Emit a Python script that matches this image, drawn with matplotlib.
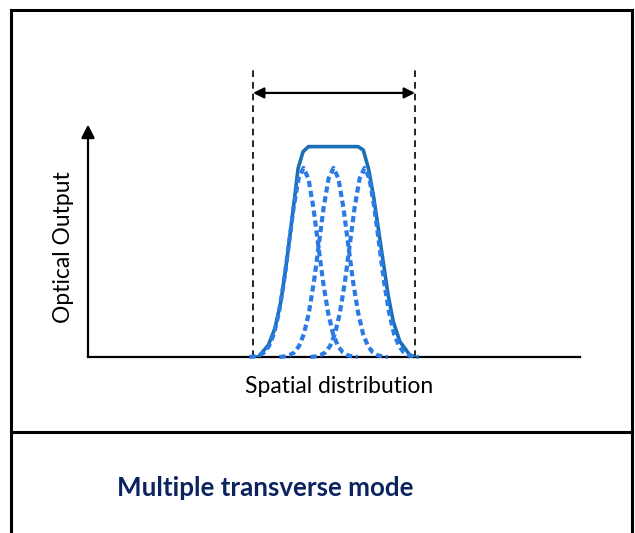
import matplotlib
matplotlib.use("Agg")
import matplotlib.pyplot as plt
import numpy as np
from matplotlib.patches import Rectangle
from matplotlib.lines import Line2D

# single-mode profile (offset from mode centre, relative output)
PROFILE_OFFSET = [-11, -10, -9, -8, -7, -6, -5, -4, -3, -2, -1, 0,
                  1, 2, 3, 4, 5, 6, 7, 8, 9, 10, 11]
PROFILE_HEIGHT = [0.0, 0.003, 0.009, 0.024, 0.058, 0.123, 0.234, 0.394, 0.592, 0.792, 0.944, 1.0,
                  0.944, 0.792, 0.592, 0.394, 0.234, 0.123, 0.058, 0.024, 0.009, 0.003, 0.0]
MODE_CENTERS = [43.8, 49.9, 56.2]

# combined (envelope) output
ENVELOPE_X = [33.5, 34.6, 36.65, 38.0, 39.2, 40.2, 41.06, 41.9, 42.7, 43.7, 44.8,
              54.9, 55.95, 57.0, 58.0, 59.0, 60.0, 61.0, 62.05, 63.4, 65.4, 66.5]
ENVELOPE_Y = [0.0, 0.0, 0.063, 0.152, 0.293, 0.469, 0.646, 0.822, 0.998, 1.086, 1.113,
              1.113, 1.095, 0.998, 0.857, 0.681, 0.504, 0.328, 0.187, 0.081, 0.011, 0.0]

SPOT_EDGES = [33.54, 66.46]
SPOT_TOP = 1.52
ARROW_LEVEL = 1.397

FONT = "Lato"
MODE_BLUE = "#2a7be6"
ENV_BLUE = "#1b6fb5"
NAVY = "#0b2460"

fig = plt.figure(figsize=(6.35, 5.33), dpi=100)

ax = fig.add_axes([88 / 635, 176 / 533, 492 / 635, 232.5 / 533])
ax.set_xlim(0, 100)
ax.set_ylim(0, 1.23)
for side in ("top", "right", "left"):
    ax.spines[side].set_visible(False)
ax.spines["bottom"].set_linewidth(1.6)
ax.set_xticks([])
ax.set_yticks([])

# vertical axis with arrow head
ax.annotate("", xy=(0, 1.23), xytext=(0, 0),
            arrowprops=dict(arrowstyle="-|>", lw=1.6, color="black", mutation_scale=20,
                            shrinkA=0, shrinkB=0))

# spot-size markers
for xe in SPOT_EDGES:
    ax.plot([xe, xe], [0, SPOT_TOP], color="black", lw=1.2, dashes=(4, 3), clip_on=False)
ax.annotate("", xy=(SPOT_EDGES[1], ARROW_LEVEL), xytext=(SPOT_EDGES[0], ARROW_LEVEL),
            arrowprops=dict(arrowstyle="<|-|>", lw=1.6, color="black", mutation_scale=16,
                            shrinkA=0, shrinkB=0), annotation_clip=False)

ax.plot(ENVELOPE_X, ENVELOPE_Y, color=ENV_BLUE, lw=2.6, solid_joinstyle="round", zorder=3)
offsets = np.array(PROFILE_OFFSET)
for c in MODE_CENTERS:
    ax.plot(offsets + c, PROFILE_HEIGHT, color=MODE_BLUE, lw=3.0, dashes=(1.5, 0.9),
            zorder=4, clip_on=False)

ax.text(-4.9, 0.58, "Optical Output", rotation=90, ha="center", va="center",
        fontsize=16.5, family=FONT)
ax.text(51.0, -0.155, "Spatial distribution", ha="center", va="center",
        fontsize=16.5, family=FONT)

# frame and caption panel
fig.add_artist(Rectangle((11 / 635, -0.05), 621 / 635, 1 - 10 / 533 + 0.05,
                         transform=fig.transFigure, fill=False, lw=2.2, ec="black"))
fig.add_artist(Line2D([11 / 635, 632 / 635], [1 - 432 / 533] * 2,
                      transform=fig.transFigure, lw=2.2, color="black"))
fig.text(265 / 635, 1 - 488 / 533, "Multiple transverse mode", ha="center", va="center",
         fontsize=18.6, fontweight="bold", color=NAVY, family=FONT)

fig.savefig("out.png", dpi=100)
